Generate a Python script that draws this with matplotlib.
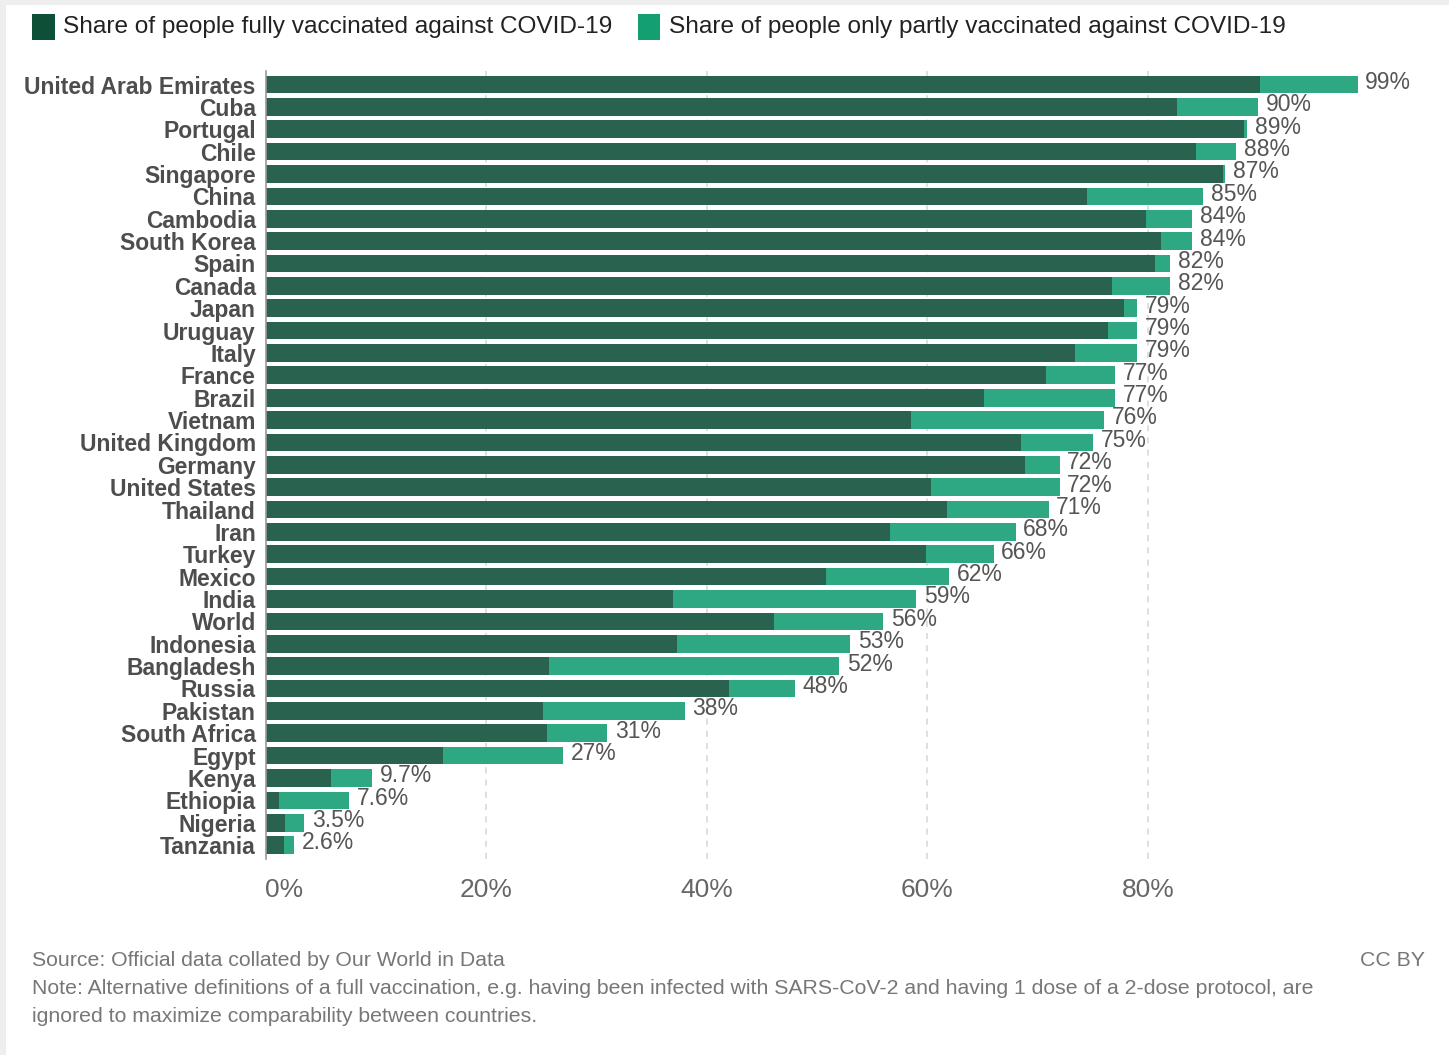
import matplotlib
matplotlib.use("Agg")
import matplotlib.pyplot as plt
from matplotlib.patches import Rectangle

countries = ["United Arab Emirates", "Cuba", "Portugal", "Chile", "Singapore", "China",
             "Cambodia", "South Korea", "Spain", "Canada", "Japan", "Uruguay", "Italy",
             "France", "Brazil", "Vietnam", "United Kingdom", "Germany", "United States",
             "Thailand", "Iran", "Turkey", "Mexico", "India", "World", "Indonesia",
             "Bangladesh", "Russia", "Pakistan", "South Africa", "Egypt", "Kenya",
             "Ethiopia", "Nigeria", "Tanzania"]
# share with at least one dose (label value), in %
total_share = [99, 90, 89, 88, 87, 85, 84, 84, 82, 82, 79, 79, 79, 77, 77, 76, 75, 72, 72,
               71, 68, 66, 62, 59, 56, 53, 52, 48, 38, 31, 27, 9.7, 7.6, 3.5, 2.6]
# share fully vaccinated, in %
full_share = [90.2, 82.6, 88.7, 84.4, 86.8, 74.5, 79.8, 81.2, 80.6, 76.7, 77.8, 76.4, 73.4,
              70.8, 65.1, 58.5, 68.5, 68.9, 60.3, 61.8, 56.6, 59.9, 50.8, 36.9, 46.1, 37.3,
              25.7, 42.0, 25.2, 25.5, 16.1, 5.9, 1.2, 1.8, 1.7]
partial_share = [t - f for t, f in zip(total_share, full_share)]
xticks = [0, 20, 40, 60, 80]

W, H = 1449, 1055
DARK = "#29624e"
LIGHT = "#2ea882"

plt.rcParams["font.family"] = ["Liberation Sans", "DejaVu Sans"]

fig = plt.figure(figsize=(W / 100, H / 100), dpi=100, facecolor="#eeeeee")
fig.patches.append(Rectangle((6 / W, 0), 1, 1 - 5 / H, transform=fig.transFigure,
                             facecolor="white", edgecolor="none", zorder=-10))

def fx(x):
    return x / W

def fy(y):
    return 1 - y / H

ax = fig.add_axes([fx(265.5), fy(858.5), fx(1423.7) - fx(265.5), fy(71.1) - fy(858.5)])
ax.set_facecolor("none")

ypos = list(range(len(countries)))
ax.barh(ypos, full_share, height=0.79, color=DARK, zorder=2)
ax.barh(ypos, partial_share, left=full_share, height=0.79, color=LIGHT, zorder=2)

for y, t in zip(ypos, total_share):
    label = f"{t:.1f}%" if t < 10 else f"{t:.0f}%"
    ax.annotate(label, (t, y), xytext=(5.5, 1.5), textcoords="offset points",
                ha="left", va="center", fontsize=16.5, color="#555555")

ax.set_xlim(0, 105)
ax.set_ylim(len(countries) - 0.4, -0.6)
ax.set_yticks(ypos)
ax.set_yticklabels(countries, fontsize=16.5, fontweight="bold", color="#4d4d4d")
ax.set_xticks(xticks)
ax.set_xticklabels([f"{v}%" for v in xticks], fontsize=19, color="#666666")
ax.get_xticklabels()[0].set_horizontalalignment("left")
ax.tick_params(axis="y", length=0, pad=7)
ax.tick_params(axis="x", length=0, pad=14)

for v in xticks[1:]:
    ax.axvline(v, color="#d6d6d6", lw=1.1, ls=(0, (4, 4)), zorder=1)

for side in ["top", "right", "bottom"]:
    ax.spines[side].set_visible(False)
ax.spines["left"].set_color("#999999")
ax.spines["left"].set_linewidth(1.2)

# legend row
fig.patches.append(Rectangle((fx(32), fy(40)), fx(22.5), fy(14) - fy(40),
                             transform=fig.transFigure, facecolor="#0e4f37", edgecolor="none"))
fig.text(fx(63), fy(27), "Share of people fully vaccinated against COVID-19",
         fontsize=17.6, color="#222222", va="center", ha="left")
fig.patches.append(Rectangle((fx(637.5), fy(40)), fx(22.5), fy(14) - fy(40),
                             transform=fig.transFigure, facecolor="#139f72", edgecolor="none"))
fig.text(fx(669), fy(27), "Share of people only partly vaccinated against COVID-19",
         fontsize=17.6, color="#222222", va="center", ha="left")

# footer
foot = dict(fontsize=15.3, color="#777777", va="center")
fig.text(fx(32), fy(961), "Source: Official data collated by Our World in Data", ha="left", **foot)
fig.text(fx(1425), fy(961), "CC BY", ha="right", **foot)
fig.text(fx(32), fy(989), "Note: Alternative definitions of a full vaccination, e.g. having been "
         "infected with SARS-CoV-2 and having 1 dose of a 2-dose protocol, are", ha="left", **foot)
fig.text(fx(32), fy(1017), "ignored to maximize comparability between countries.",
         ha="left", **foot)

fig.savefig("out.png", dpi=100, facecolor=fig.get_facecolor())
